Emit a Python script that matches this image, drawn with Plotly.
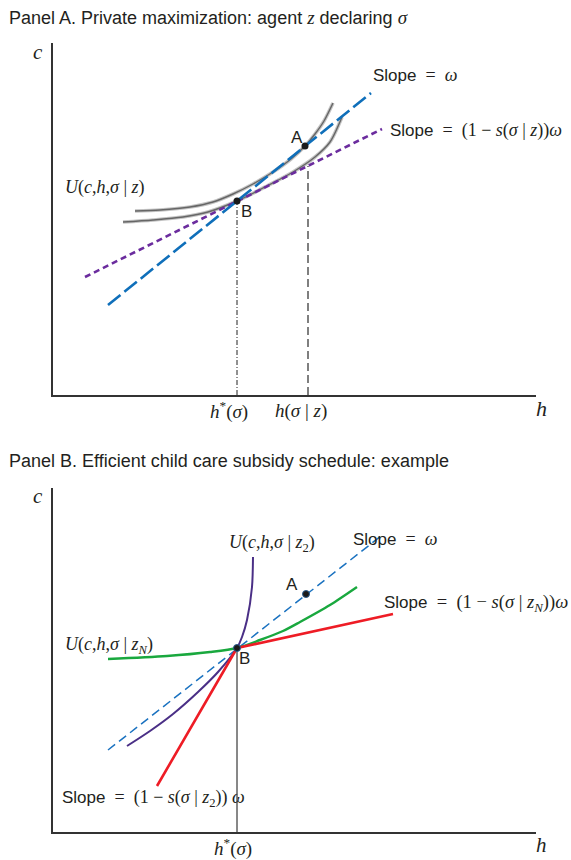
import plotly.graph_objects as go

# ---------------- Panel A data (abstract units: h right, c up) ----------------
A_upper_h = [82, 107, 137, 160, 180, 200, 220, 238, 252, 262, 271, 280]
A_upper_c = [184, 185, 188, 193, 201, 211, 223, 236, 249, 261, 274, 292]
A_lower_h = [70, 100, 130, 155, 184, 214, 240, 262, 277, 289]
A_lower_c = [173, 175, 178, 183, 194, 209, 223, 238, 253, 278]
A_omega_h = [55, 318]           # Slope = omega
A_omega_c = [90, 302]
A_sub_h = [32, 329]             # Slope = (1 - s) omega
A_sub_c = [118, 266]
A_pts_h = [252, 184]            # A, B
A_pts_c = [249, 194]
A_hstar = 184
A_hstar_c = 194
A_hz = 255
A_hz_c = 229

# ---------------- Panel B data ----------------
B_omega_h = [55, 328]
B_omega_c = [82, 296]
B_z2_h = [74, 97, 120, 145, 165, 184, 189, 194, 199, 200]
B_z2_c = [86, 101, 118, 140, 160, 184, 195, 212, 245, 275]
B_zN_h = [55, 114, 157, 184, 207, 230, 247, 277, 304]
B_zN_c = [173, 176, 180, 184, 192, 201, 210, 227, 245]
B_red_h = [104, 184, 340]
B_red_c = [46, 184, 218]
B_pts_h = [253, 184]
B_pts_c = [238, 184]
B_hstar = 184
B_hstar_c = 184

W, H = 571, 860
XR = 483
XDOM = [53 / W, 536 / W]
A_YR, B_YR = 352, 344
A_YDOM = [1 - 395 / H, 1 - 43 / H]
B_YDOM = [1 - 832 / H, 1 - 488 / H]

SERIF = "Liberation Serif"
SANS = "Liberation Sans"
TXT = "#231f20"
NB = "\u00a0"

fig = go.Figure()


def line(h, c, color, width, dash="solid", ax="", shape="linear"):
    fig.add_trace(go.Scatter(x=h, y=c, mode="lines", xaxis="x" + ax, yaxis="y" + ax,
                             line=dict(color=color, width=width, dash=dash, shape=shape,
                                       smoothing=0.8),
                             hoverinfo="skip", showlegend=False))


# Panel A
line([A_hstar, A_hstar], [0, A_hstar_c], "#222222", 1, "5px,2px,1px,2px")
line([A_hz, A_hz], [0, A_hz_c], "#555555", 1.5, "8px,4px")
for hh, cc in ((A_upper_h, A_upper_c), (A_lower_h, A_lower_c)):
    line(hh, cc, "#c4c4c4", 3.6, shape="spline")
    line(hh, cc, "#666666", 1.4, shape="spline")
line(A_sub_h, A_sub_c, "#6b2c9e", 2.6, "6px,4px")
line(A_omega_h, A_omega_c, "#0f6fba", 2.6, "16px,5px")
fig.add_trace(go.Scatter(x=A_pts_h, y=A_pts_c, mode="markers", xaxis="x", yaxis="y",
                         marker=dict(color="#1a1a1a", size=7), hoverinfo="skip", showlegend=False))

# Panel B
line([B_hstar, B_hstar], [0, B_hstar_c], "#111111", 1, ax="2")
line(B_omega_h, B_omega_c, "#1a72c0", 1.5, "9px,5px", ax="2")
line(B_z2_h, B_z2_c, "#4a2f86", 2, ax="2", shape="spline")
line(B_zN_h, B_zN_c, "#19a83e", 2.4, ax="2", shape="spline")
line(B_red_h, B_red_c, "#ee1c25", 2.6, ax="2")
fig.add_trace(go.Scatter(x=B_pts_h, y=B_pts_c, mode="markers", xaxis="x2", yaxis="y2",
                         marker=dict(color="#1a1a1a", size=7, line=dict(color="#2a5d8f", width=1)),
                         hoverinfo="skip", showlegend=False))


def s(t, size=18):
    return f'<span style="font-family:{SERIF};font-size:{size}px">{t}</span>'


def to_paper(h, c, ax):
    ydom, yr = (A_YDOM, A_YR) if ax == "" else (B_YDOM, B_YR)
    return (XDOM[0] + h / XR * (XDOM[1] - XDOM[0]),
            ydom[0] + c / yr * (ydom[1] - ydom[0]))


def ann(h, c, text, ax="", size=17, xanchor="center", family=SANS):
    x, y = to_paper(h, c, ax)
    fig.add_annotation(x=x, y=y, xref="paper", yref="paper", text=text, showarrow=False,
                       xanchor=xanchor, yanchor="middle", borderpad=0,
                       font=dict(family=family, size=size, color=TXT))


def tann(py, text):
    fig.add_annotation(x=8 / W, y=1 - py / H, xref="paper", yref="paper", text=text,
                       showarrow=False, xanchor="left", yanchor="middle", borderpad=0,
                       font=dict(family=SANS, size=18, color=TXT))


EQ = NB * 2 + "=" + NB * 2
MI = NB + "−" + NB

tann(18, "Panel A. Private maximization: agent " + s("<i>z</i>", 19) + " declaring " + s("<i>σ</i>", 19))
tann(461, "Panel B. Efficient child care subsidy schedule: example")

# Panel A labels
ann(-15, 343, "<i>c</i>", family=SERIF, size=21)
ann(319, 320, "Slope" + s(EQ + "<i>ω</i>"), xanchor="left")
ann(336, 265, "Slope" + s(EQ + "(1" + MI + "<i>s</i>(<i>σ</i>" + NB + "|" + NB + "<i>z</i>))<i>ω</i>"),
    xanchor="left")
ann(11, 208, "<i>U</i>(<i>c</i>,<i>h</i>,<i>σ</i>" + NB + "|" + NB + "<i>z</i>)", xanchor="left",
    family=SERIF, size=18)
ann(244, 258, "A")
ann(193, 184, "B")
ann(176, -16, "<i>h</i><sup>*</sup>(<i>σ</i>)", family=SERIF, size=19)
ann(248, -16, "<i>h</i>(<i>σ</i>" + NB + "|" + NB + "<i>z</i>)", family=SERIF, size=19)
ann(488, -14, "<i>h</i>", family=SERIF, size=22)

# Panel B labels
ann(-15, 336, "<i>c</i>", ax="2", family=SERIF, size=21)
ann(219, 289, "<i>U</i>(<i>c</i>,<i>h</i>,<i>σ</i>" + NB + "|" + NB + "<i>z</i><sub>2</sub>)", ax="2",
    family=SERIF, size=18)
ann(299, 293, "Slope" + s(EQ + "<i>ω</i>"), ax="2", xanchor="left")
ann(239, 248, "A", ax="2")
ann(330, 229, "Slope" + s(EQ + "(1" + MI + "<i>s</i>(<i>σ</i>" + NB + "|" + NB
                         + "<i>z</i><sub><i>N</i></sub>))<i>ω</i>", 18.5), ax="2", xanchor="left")
ann(11, 187, "<i>U</i>(<i>c</i>,<i>h</i>,<i>σ</i>" + NB + "|" + NB + "<i>z</i><sub><i>N</i></sub>)",
    ax="2", xanchor="left", family=SERIF, size=18)
ann(192, 174, "B", ax="2")
ann(8, 34, "Slope" + s(EQ + "(1" + MI + "<i>s</i>(<i>σ</i>" + NB + "|" + NB
                      + "<i>z</i><sub>2</sub>))" + NB + "<i>ω</i>"), ax="2", xanchor="left")
ann(180, -15, "<i>h</i><sup>*</sup>(<i>σ</i>)", ax="2", family=SERIF, size=19)
ann(488, -13, "<i>h</i>", ax="2", family=SERIF, size=21)

axcommon = dict(showgrid=False, zeroline=False, showticklabels=False, ticks="",
                showline=True, linecolor="#333333", linewidth=1.5, fixedrange=True)
fig.update_layout(
    width=W, height=H, autosize=False,
    margin=dict(l=0, r=0, t=0, b=0, pad=0),
    paper_bgcolor="white", plot_bgcolor="white",
    xaxis=dict(domain=XDOM, range=[0, XR], anchor="y", **axcommon),
    yaxis=dict(domain=A_YDOM, range=[0, A_YR], anchor="x", **axcommon),
    xaxis2=dict(domain=XDOM, range=[0, XR], anchor="y2", **axcommon),
    yaxis2=dict(domain=B_YDOM, range=[0, B_YR], anchor="x2", **axcommon),
)

fig.write_html("out.html", post_script="document.body.style.margin='0px';",
               config={"displayModeBar": False})
